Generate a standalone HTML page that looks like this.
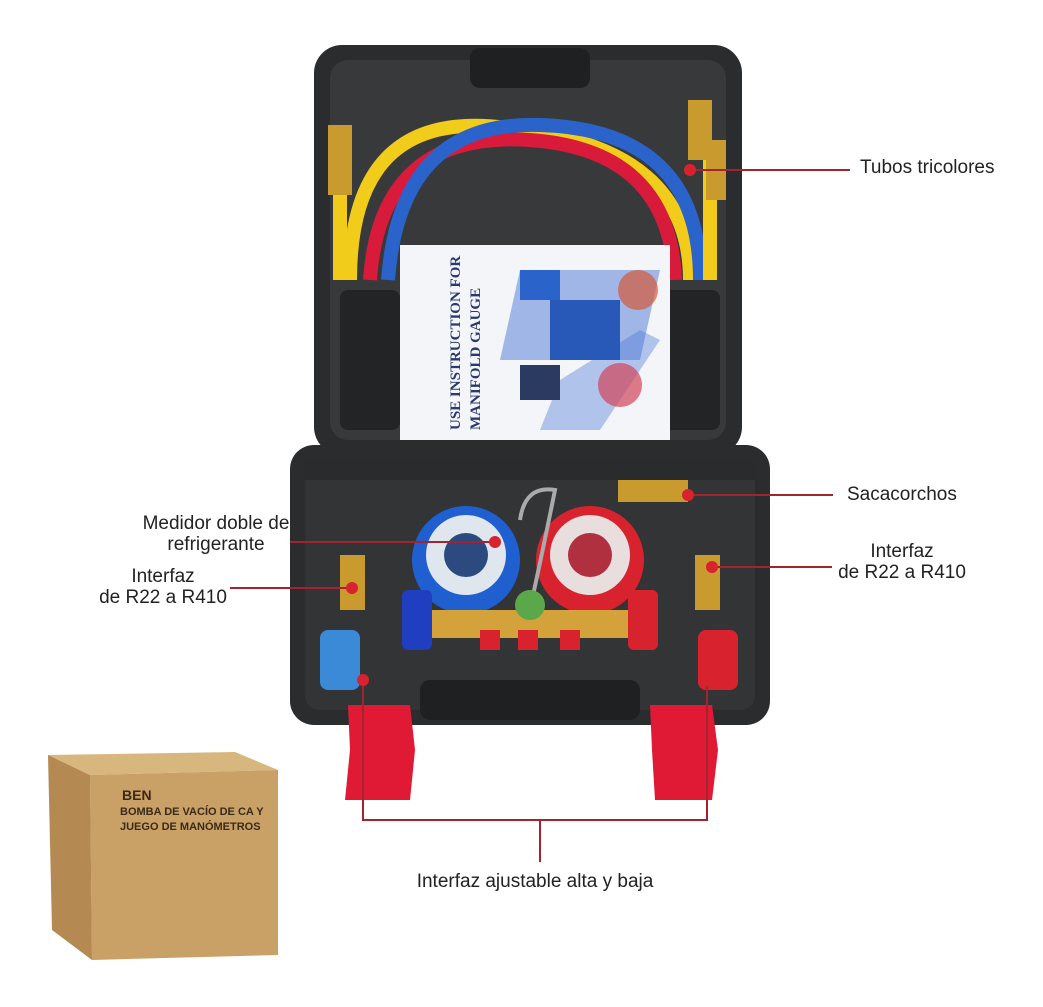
<!DOCTYPE html>
<html><head><meta charset="utf-8"><style>
html,body{margin:0;padding:0;background:#fff;}
body{width:1043px;height:1007px;position:relative;overflow:hidden;font-family:"Liberation Sans",sans-serif;}
.t{position:absolute;font-size:19px;color:#222;line-height:21px;white-space:nowrap;}
</style></head><body>
<svg width="1043" height="1007" style="position:absolute;left:0;top:0">
<!-- lid -->
<rect x="314" y="45" width="428" height="410" rx="28" fill="#2b2c2e"/>
<rect x="330" y="60" width="396" height="380" rx="18" fill="#38393b"/>
<rect x="470" y="48" width="120" height="40" rx="10" fill="#1f2022"/>
<rect x="340" y="290" width="60" height="140" rx="8" fill="#232426"/>
<rect x="660" y="290" width="60" height="140" rx="8" fill="#232426"/>
<!-- hoses -->
<path d="M350 280 Q350 100 520 130 Q690 150 690 280" stroke="#f2cc1a" stroke-width="14" fill="none"/>
<path d="M370 280 Q380 130 530 140 Q670 150 675 280" stroke="#d81b3a" stroke-width="14" fill="none"/>
<path d="M388 280 Q400 120 540 125 Q700 130 700 280" stroke="#2a63c9" stroke-width="14" fill="none"/>
<path d="M340 140 L340 280" stroke="#f2cc1a" stroke-width="14"/>
<path d="M710 160 L710 280" stroke="#f2cc1a" stroke-width="14"/>
<rect x="328" y="125" width="24" height="70" fill="#c99a2e"/>
<rect x="688" y="100" width="24" height="60" fill="#c99a2e"/>
<rect x="706" y="140" width="20" height="60" fill="#c99a2e"/>
<!-- manual -->
<rect x="400" y="245" width="270" height="195" fill="#f4f5f8"/>
<polygon points="520,270 660,270 640,360 500,360" fill="#4a78d6" opacity=".5"/>
<polygon points="560,380 640,330 660,340 600,430 540,430" fill="#4a78d6" opacity=".4"/>
<rect x="550" y="300" width="70" height="60" fill="#2858b8"/>
<rect x="520" y="365" width="40" height="35" fill="#2a3a60"/>
<circle cx="620" cy="385" r="22" fill="#d0455a" opacity=".7"/>
<circle cx="638" cy="290" r="20" fill="#d45a3a" opacity=".7"/>
<rect x="520" y="270" width="40" height="30" fill="#2a63c9"/>
<text transform="translate(460,430) rotate(-90)" font-family="Liberation Serif" font-weight="bold" font-size="15" fill="#2a3a70">USE INSTRUCTION FOR</text>
<text transform="translate(480,430) rotate(-90)" font-family="Liberation Serif" font-weight="bold" font-size="15" fill="#2a3a70">MANIFOLD GAUGE</text>
<!-- base -->
<rect x="290" y="445" width="480" height="280" rx="24" fill="#2b2c2e"/>
<rect x="305" y="460" width="450" height="250" rx="14" fill="#333436"/>
<rect x="420" y="680" width="220" height="40" rx="10" fill="#1f2022"/>
<rect x="305" y="460" width="450" height="20" fill="#2a2b2d"/>
<!-- gauges -->
<circle cx="466" cy="560" r="54" fill="#1f5fd0"/>
<circle cx="466" cy="555" r="40" fill="#dfe6ee"/>
<circle cx="466" cy="555" r="22" fill="#2d4a80"/>
<circle cx="590" cy="560" r="54" fill="#d8232f"/>
<circle cx="590" cy="555" r="40" fill="#e9dede"/>
<circle cx="590" cy="555" r="22" fill="#b03040"/>
<path d="M520 520 Q525 485 555 490 Q545 540 532 600" stroke="#aaa" stroke-width="4" fill="none"/>
<rect x="420" y="610" width="210" height="28" fill="#d4a23a"/>
<rect x="402" y="590" width="30" height="60" rx="6" fill="#1f3fc0"/>
<rect x="628" y="590" width="30" height="60" rx="6" fill="#d8232f"/>
<rect x="480" y="630" width="20" height="20" fill="#d8232f"/>
<rect x="518" y="630" width="20" height="20" fill="#d8232f"/>
<rect x="560" y="630" width="20" height="20" fill="#d8232f"/>
<circle cx="530" cy="605" r="15" fill="#5aa84a"/>
<rect x="340" y="555" width="25" height="55" fill="#c99a2e"/>
<rect x="695" y="555" width="25" height="55" fill="#c99a2e"/>
<rect x="618" y="480" width="70" height="22" fill="#c99a2e"/>
<rect x="320" y="630" width="40" height="60" rx="8" fill="#3a8ad8"/>
<rect x="698" y="630" width="40" height="60" rx="8" fill="#d8232f"/>
<!-- red clips -->
<path d="M348 705 L410 705 L415 750 L410 800 L345 800 L350 750 Z" fill="#e01a35"/>
<path d="M650 705 L712 705 L718 750 L712 800 L655 800 L652 750 Z" fill="#e01a35"/>
<!-- box -->
<polygon points="48,755 235,752 278,770 90,775" fill="#d8b77e"/>
<polygon points="90,775 278,770 278,955 92,960" fill="#c9a066"/>
<polygon points="48,755 90,775 92,960 52,930" fill="#b48a52"/>
<text x="120" y="815" font-family="Liberation Sans" font-weight="bold" font-size="11" fill="#3a2a18">BOMBA DE VACÍO DE CA Y</text>
<text x="120" y="830" font-family="Liberation Sans" font-weight="bold" font-size="11" fill="#3a2a18">JUEGO DE MANÓMETROS</text>
<text x="122" y="800" font-family="Liberation Sans" font-weight="bold" font-size="14" fill="#3a2a18">BEN</text>
<!-- connector lines -->
<g stroke="#a3242f" stroke-width="2" fill="none">
<line x1="690" y1="170" x2="850" y2="170"/>
<line x1="688" y1="495" x2="833" y2="495"/>
<line x1="290" y1="542" x2="495" y2="542"/>
<line x1="230" y1="588" x2="352" y2="588"/>
<line x1="712" y1="567" x2="832" y2="567"/>
<polyline points="363,680 363,820 707,820 707,680"/>
<line x1="540" y1="820" x2="540" y2="862"/>
</g>
<g fill="#d8232f">
<circle cx="690" cy="170" r="6"/><circle cx="688" cy="495" r="6"/>
<circle cx="495" cy="542" r="6"/><circle cx="352" cy="588" r="6"/>
<circle cx="712" cy="567" r="6"/><circle cx="363" cy="680" r="6"/>
<circle cx="707" cy="680" r="6"/>
</g>
</svg>
<div class="t" style="left:860px;top:157px">Tubos tricolores</div>
<div class="t" style="left:847px;top:484px">Sacacorchos</div>
<div class="t" style="left:116px;top:513px;width:200px;text-align:center">Medidor doble de<br>refrigerante</div>
<div class="t" style="left:83px;top:566px;width:160px;text-align:center">Interfaz<br>de R22 a R410</div>
<div class="t" style="left:822px;top:541px;width:160px;text-align:center">Interfaz<br>de R22 a R410</div>
<div class="t" style="left:385px;top:871px;width:300px;text-align:center">Interfaz ajustable alta y baja</div>
</body></html>
